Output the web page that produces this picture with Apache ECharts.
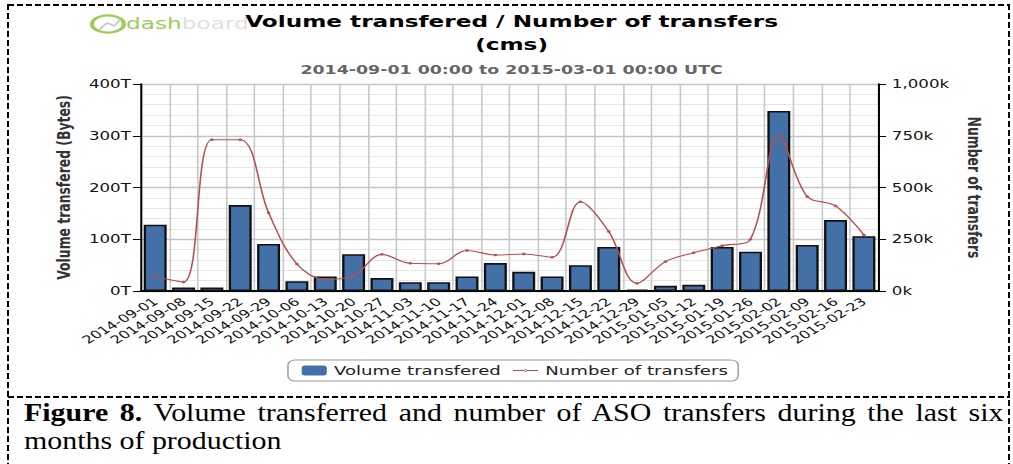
<!DOCTYPE html>
<html>
<head>
<meta charset="utf-8">
<script src="https://cdn.jsdelivr.net/npm/echarts@6/dist/echarts.min.js"></script>
<style>
  html,body{margin:0;padding:0;background:#fff;}
  body{width:1013px;height:464px;position:relative;overflow:hidden;}
  /* the original figure is stretched sideways, so the chart is drawn narrow and scaled */
  #chart{position:absolute;left:0;top:0;width:699px;height:395px;transform:scaleX(1.4492);transform-origin:0 0;}
  .dashH{position:absolute;height:2px;background:repeating-linear-gradient(90deg,#000 0 6px,transparent 6px 9px);}
  .dashV{position:absolute;width:2px;background:repeating-linear-gradient(180deg,#000 0 6px,transparent 6px 9px);}
  .cap{position:absolute;left:24px;width:819px;transform:scaleX(1.196);transform-origin:0 0;white-space:nowrap;
    font-family:"Liberation Serif","Times New Roman",serif;font-size:25px;line-height:26px;color:#000;}
  #cap1{top:400px;text-align:justify;text-align-last:justify;white-space:normal;}
  #cap2{top:428px;}
</style>
</head>
<body>
<div id="chart"></div>
<div class="dashH" style="left:8px;top:4px;width:1002px;"></div>
<div class="dashH" style="left:8px;top:396px;width:1002px;"></div>
<div class="dashV" style="left:7px;top:4px;height:470px;"></div>
<div class="dashV" style="left:1008px;top:4px;height:470px;"></div>
<div class="cap" id="cap1"><b>Figure 8.</b> <span>Volume transferred and number of ASO transfers during the last six</span></div>
<div class="cap" id="cap2">months of production</div>

<script>
// 周次（x轴）
const weeks = ['2014-09-01','2014-09-08','2014-09-15','2014-09-22','2014-09-29','2014-10-06','2014-10-13',
  '2014-10-20','2014-10-27','2014-11-03','2014-11-10','2014-11-17','2014-11-24','2014-12-01','2014-12-08',
  '2014-12-15','2014-12-22','2014-12-29','2015-01-05','2015-01-12','2015-01-19','2015-01-26','2015-02-02',
  '2015-02-09','2015-02-16','2015-02-23']
// 传输量，单位 T
const volumeT = [128,7,7,166,91,19,28,71,25,17,17,28,54,37,28,50,85,3,10,12,85,76,348,89,137,106]
// 传输次数，单位 k
const transfersK = [69,43,731,731,378,130,56,74,177,134,132,196,174,179,163,431,287,37,142,185,219,250,752,456,411,271]

const font = 'DejaVu Sans'
const red = '#b5504e'
const chart = echarts.init(document.getElementById('chart'), null, {renderer:'svg'})

chart.setOption({
  animation:false,
  title:[
    {
      text:'Volume transfered / Number of transfers\n(cms)',
      left:353, top:10, textAlign:'center', padding:0,
      textStyle:{fontFamily:font, fontSize:16, fontWeight:'bold', color:'#000', lineHeight:23}
    },
    {
      text:'2014-09-01 00:00 to 2015-03-01 00:00 UTC',
      left:353, top:63, textAlign:'center', padding:0,
      textStyle:{fontFamily:font, fontSize:12, fontWeight:'bold', color:'#666', lineHeight:14}
    }
  ],
  // dashboard 标志
  graphic:[
    {type:'circle', shape:{cx:74.5, cy:24, r:8.5}, scaleX:1.3, originX:74.5, originY:24,
      style:{fill:'none', stroke:'#9ccb5a', lineWidth:2.2}, z:-1},
    {type:'polyline', shape:{points:[[68,30],[74,23],[79,26],[83,19]]},
      style:{fill:'none', stroke:'#c8c8c8', lineWidth:1.5}, z:-1},
    {type:'text', x:87, y:24, z:-1,
      style:{text:'dash', fontFamily:font, fontSize:16, fill:'#9ccb5a', verticalAlign:'middle'}},
    {type:'text', x:125.5, y:24, z:-1,
      style:{text:'board', fontFamily:font, fontSize:16, fill:'#e0e0e0', verticalAlign:'middle'}}
  ],
  legend:{
    data:[
      {name:'Volume transfered', itemStyle:{borderWidth:0}},
      {name:'Number of transfers', icon:'path://M0,0L0,0M0,10L0,10M0,4.6H40V5.4H0ZM18.5,5a1.5,1.5 0 1,0 3,0a1.5,1.5 0 1,0 -3,0Z'}
    ],
    left:198.7, top:360,
    symbolKeepAspect:false,
    borderColor:'#999', borderWidth:1, borderRadius:5,
    padding:[4,7,4,9.5], itemGap:8.3, itemWidth:17.3, itemHeight:10,
    textStyle:{fontFamily:font, fontSize:12.5, color:'#222'}
  },
  grid:{left:97.3, right:93.1, top:84, bottom:104},
  xAxis:{
    type:'category',
    data:weeks,
    boundaryGap:true,
    axisLine:{lineStyle:{color:'#000', width:2}},
    axisTick:{length:5, lineStyle:{color:'#000'}},
    axisLabel:{interval:0, rotate:40, fontFamily:font, fontSize:11, color:'#111', margin:9},
    splitLine:{show:true, lineStyle:{color:'#c8c8c8', width:1.1}}
  },
  yAxis:[
    {
      type:'value', min:0, max:400, interval:100, position:'left',
      name:'Volume transfered (Bytes)', nameLocation:'middle', nameGap:47, nameRotate:90,
      nameTextStyle:{fontFamily:font, fontSize:12.4, fontWeight:'bold', color:'#333'},
      axisLine:{show:true, lineStyle:{color:'#000', width:1.4}},
      axisTick:{show:true, length:5.5, lineStyle:{color:'#000'}},
      axisLabel:{formatter:'{value}T', fontFamily:font, fontSize:11.5, color:'#111', margin:7},
      splitLine:{lineStyle:{color:'#c4c4c4', width:1.3}},
      minorTick:{show:false, splitNumber:5},
      minorSplitLine:{show:true, lineStyle:{color:'#e6e6e6', width:1}}
    },
    {
      type:'value', min:0, max:1000, interval:250, position:'right',
      name:'Number of transfers', nameLocation:'middle', nameGap:59, nameRotate:-90,
      nameTextStyle:{fontFamily:font, fontSize:12.4, fontWeight:'bold', color:'#333'},
      axisLine:{show:true, lineStyle:{color:'#000', width:1.4}},
      axisTick:{show:true, length:5.5, lineStyle:{color:'#000'}},
      axisLabel:{formatter:v => v.toLocaleString('en-US') + 'k', fontFamily:font, fontSize:11.5, color:'#111', margin:9.5},
      splitLine:{show:false}
    }
  ],
  series:[
    {
      name:'Volume transfered',
      type:'bar',
      yAxisIndex:0,
      data:volumeT,
      barWidth:'81%',
      itemStyle:{color:'#4470a8', borderColor:'#111', borderWidth:1.6}
    },
    {
      name:'Number of transfers',
      type:'line',
      yAxisIndex:1,
      data:transfersK,
      smooth:0.35,
      symbol:'circle',
      symbolSize:2.5,
      lineStyle:{color:red, width:1.1},
      itemStyle:{color:red}
    }
  ]
})
</script>
</body>
</html>
